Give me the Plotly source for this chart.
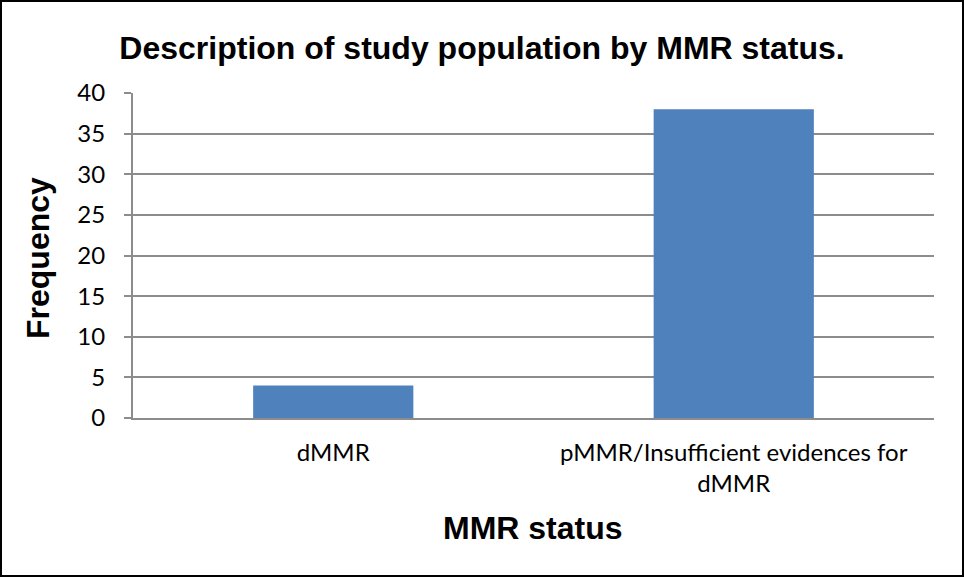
"""MMR status frequency bar chart."""

import plotly.graph_objects as go

categories = ["dMMR", "pMMR/Insufficient evidences for<br>dMMR"]
frequency = [4, 38]
y_ticks = [0, 5, 10, 15, 20, 25, 30, 35, 40]

BAR_COLOR = "#4F81BD"
GRID_COLOR = "#8C8C8C"
TITLE_FONT = "Liberation Sans, Arial"
TICK_FONT = "Lato, Calibri, sans-serif"

W, H = 964, 577
L, R, T, B = 133, 30, 93, 159
pw, ph = W - L - R, H - T - B


def px_x(x):
    return (x - L) / pw


def px_y(y):
    return (T + ph - y) / ph


fig = go.Figure(
    data=[
        go.Bar(
            x=categories,
            y=frequency,
            marker={"color": BAR_COLOR, "line": {"width": 0}},
            hovertemplate="%{x}: %{y}<extra></extra>",
        )
    ]
)

fig.update_layout(
    width=W,
    height=H,
    margin=dict(l=L, r=R, t=T, b=B, autoexpand=False),
    paper_bgcolor="white",
    plot_bgcolor="white",
    bargap=0.6,
    showlegend=False,
    title=dict(
        text="<b>Description of study population by MMR status.</b>",
        font=dict(family=TITLE_FONT, size=32, color="black"),
        x=0.5,
        xanchor="center",
        y=1 - 48 / H,
        yanchor="middle",
    ),
    font=dict(family=TICK_FONT, size=24, color="black"),
    xaxis=dict(
        showline=True,
        linecolor=GRID_COLOR,
        linewidth=2,
        ticks="",
        ticklabelstandoff=12,
        tickfont=dict(family=TICK_FONT, size=24),
    ),
    yaxis=dict(
        range=[0, 40],
        tickvals=y_ticks,
        showgrid=True,
        gridcolor=GRID_COLOR,
        gridwidth=2,
        showline=True,
        linecolor=GRID_COLOR,
        linewidth=2,
        ticks="outside",
        ticklen=7,
        tickcolor=GRID_COLOR,
        tickwidth=2,
        ticklabelstandoff=14,
        zeroline=False,
        tickfont=dict(family=TICK_FONT, size=24),
    ),
    annotations=[
        dict(
            text="<b>Frequency</b>",
            xref="paper", yref="paper",
            x=px_x(38), y=px_y(258),
            xanchor="center", yanchor="middle",
            textangle=-90, showarrow=False,
            font=dict(family=TITLE_FONT, size=32, color="black"),
        ),
        dict(
            text="<b>MMR status</b>",
            xref="paper", yref="paper",
            x=px_x(533), y=px_y(528),
            xanchor="center", yanchor="middle",
            showarrow=False,
            font=dict(family=TITLE_FONT, size=32, color="black"),
        ),
    ],
    shapes=[
        dict(
            type="rect",
            xref="paper",
            yref="paper",
            x0=px_x(1),
            x1=px_x(W - 1),
            y0=px_y(H - 1),
            y1=px_y(1),
            line=dict(color="black", width=2),
            fillcolor="rgba(0,0,0,0)",
            layer="above",
        )
    ],
)

fig.write_html(
    "out.html",
    config={"displayModeBar": False},
    post_script="document.body.style.margin='0';",
)
